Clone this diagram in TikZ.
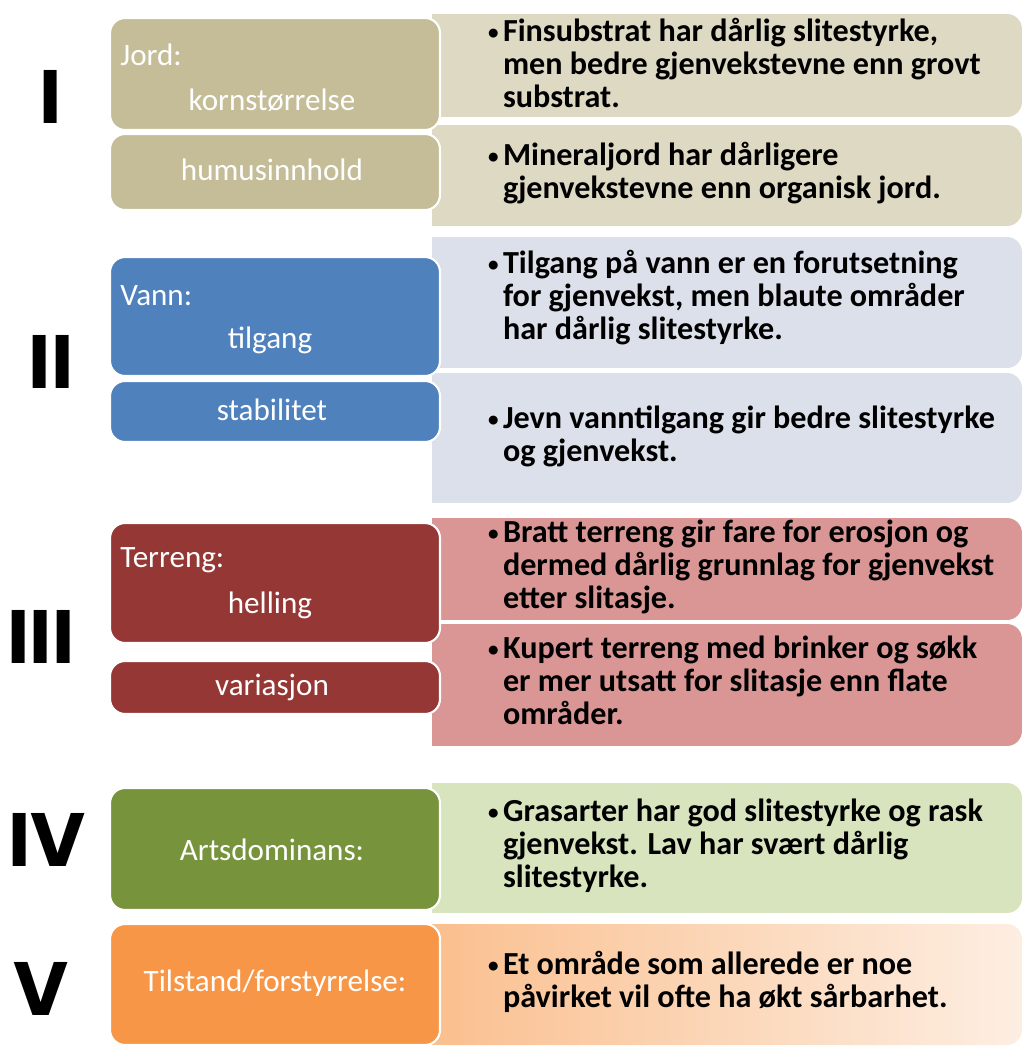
\documentclass[tikz,border=0pt]{standalone}
\usepackage{fontspec}
\setmainfont{Carlito}
\newfontfamily\romfont{Poppins}
\usetikzlibrary{positioning}

\definecolor{tanD}{HTML}{C4BD97}
\definecolor{tanL}{HTML}{DDD9C3}
\definecolor{blueD}{HTML}{4F81BD}
\definecolor{blueL}{HTML}{DBE0EA}
\definecolor{redD}{HTML}{953735}
\definecolor{redL}{HTML}{D99694}
\definecolor{greenD}{HTML}{77933C}
\definecolor{greenL}{HTML}{D7E4BD}
\definecolor{oraD}{HTML}{F79646}
\definecolor{oraL}{HTML}{FAC090}
\definecolor{oraLL}{HTML}{FDEEE2}

\tikzset{
	venstre/.style={draw=white, line width=1.2pt, rounded corners=0.3cm, minimum width=6.6cm, inner sep=0},
	hoyre/.style={rounded corners=0.3cm, minimum width=11.8cm, inner sep=0},
	merke/.style={text=white, font=\fontsize{17.7}{20}\selectfont, inner sep=0},
	punkt/.style={anchor=west, inner sep=0, font=\fontsize{18.3}{18.8}\selectfont\bfseries},
	tall/.style={font=\romfont\bfseries\fontsize{43}{43}\selectfont, inner sep=0}
}
\newcommand{\kul}[1]{\begin{tabular}{@{}p{0.3cm}@{}l@{}}\raisebox{0.06em}{\fontsize{12}{12}\selectfont\textbullet}&#1\end{tabular}}

\begin{document}
\begin{tikzpicture}[x=0.02cm, y=-0.02cm]
	\useasboundingbox (0,0) rectangle (1025,1048);
	% felt til hoyre
	\foreach \n/\y/\h/\c in {r1/65.5/2.06/tanL, r2/175.5/2.02/tanL, r3/302.5/2.62/blueL, r4/438/2.6/blueL, r5/569/2.04/redL, r6/685/2.44/redL, r7/848/2.6/greenL} {
		\node[hoyre, fill=\c, minimum height=\h cm] (\n) at (727,\y) {};
		\fill[\c] (\n.north west) rectangle ([xshift=0.6cm]\n.south west);
	}
	\node[hoyre, left color=oraL, right color=oraLL, minimum height=2.42cm] (r8) at (727,984.5) {};
	\fill[oraL] (r8.north west) rectangle ([xshift=0.6cm]r8.south west);
	% felt til venstre
	\node[venstre, fill=tanD, minimum height=2.24cm] (jord) at (275,74) {};
	\node[venstre, fill=tanD, minimum height=1.52cm] (humus) at (275,172) {};
	\node[venstre, fill=blueD, minimum height=2.38cm] (vann) at (275,316.5) {};
	\node[venstre, fill=blueD, minimum height=1.22cm] (stab) at (275,411.5) {};
	\node[venstre, fill=redD, minimum height=2.4cm] (terreng) at (275,583) {};
	\node[venstre, fill=redD, minimum height=1.06cm] (varia) at (275,687.5) {};
	\node[venstre, fill=greenD, minimum height=2.44cm] (arts) at (275,849) {};
	\node[venstre, fill=oraD, minimum height=2.42cm] (tilstand) at (275,984.5) {};
	% tekst til venstre
	\node[merke, anchor=west] (jordT) at (120,55) {Jord:};
	\node[merke] (kornT) at (272,100) {kornstørrelse};
	\node[merke] (humusT) at (272,170) {humusinnhold};
	\node[merke, anchor=west] (vannT) at (120,296) {Vann:};
	\node[merke] (tilgT) at (270,340) {tilgang};
	\node[merke] (stabT) at (272,410) {stabilitet};
	\node[merke, anchor=west] (terrT) at (120,560) {Terreng:};
	\node[merke] (hellT) at (270,605) {helling};
	\node[merke] (variaT) at (272,687) {variasjon};
	\node[merke] (artsT) at (272,850) {Artsdominans:};
	\node[merke] (tilsT) at (275,983) {Tilstand/forstyrrelse:};
	% tekst til hoyre
	\node[punkt] (t1) at ([xshift=1.12cm,yshift=-0.05cm]r1.west) {\kul{Finsubstrat har dårlig slitestyrke,\\ & men bedre gjenvekstevne enn grovt\\ & substrat.}};
	\node[punkt] (t2) at ([xshift=1.12cm]r2.west) {\kul{Mineraljord har dårligere\\ & gjenvekstevne enn organisk jord.}};
	\node[punkt] (t3) at ([xshift=1.12cm,yshift=0.05cm]r3.west) {\kul{Tilgang på vann er en forutsetning\\ & for gjenvekst, men blaute områder\\ & har dårlig slitestyrke.}};
	\node[punkt] (t4) at ([xshift=1.12cm]r4.west) {\kul{Jevn vanntilgang gir bedre slitestyrke\\ & og gjenvekst.}};
	\node[punkt] (t5) at ([xshift=1.12cm]r5.west) {\kul{Bratt terreng gir fare for erosjon og\\ & dermed dårlig grunnlag for gjenvekst\\ & etter slitasje.}};
	\node[punkt] (t6) at ([xshift=1.12cm]r6.west) {\kul{Kupert terreng med brinker og søkk\\ & er mer utsatt for slitasje enn flate\\ & områder.}};
	\node[punkt] (t7) at ([xshift=1.12cm]r7.west) {\kul{Grasarter har god slitestyrke og rask\\ & gjenvekst. Lav har svært dårlig\\ & slitestyrke.}};
	\node[punkt] (t8) at ([xshift=1.12cm]r8.west) {\kul{Et område som allerede er noe\\ & påvirket vil ofte ha økt sårbarhet.}};
	% romertall
	\node[tall] (n1) at (51,97) {I};
	\node[tall] (n2) at (51,362) {II};
	\node[tall] (n3) at (41,637) {III};
	\node[tall] (n4) at (47,840) {IV};
	\node[tall] (n5) at (41,989) {V};
\end{tikzpicture}
\end{document}
